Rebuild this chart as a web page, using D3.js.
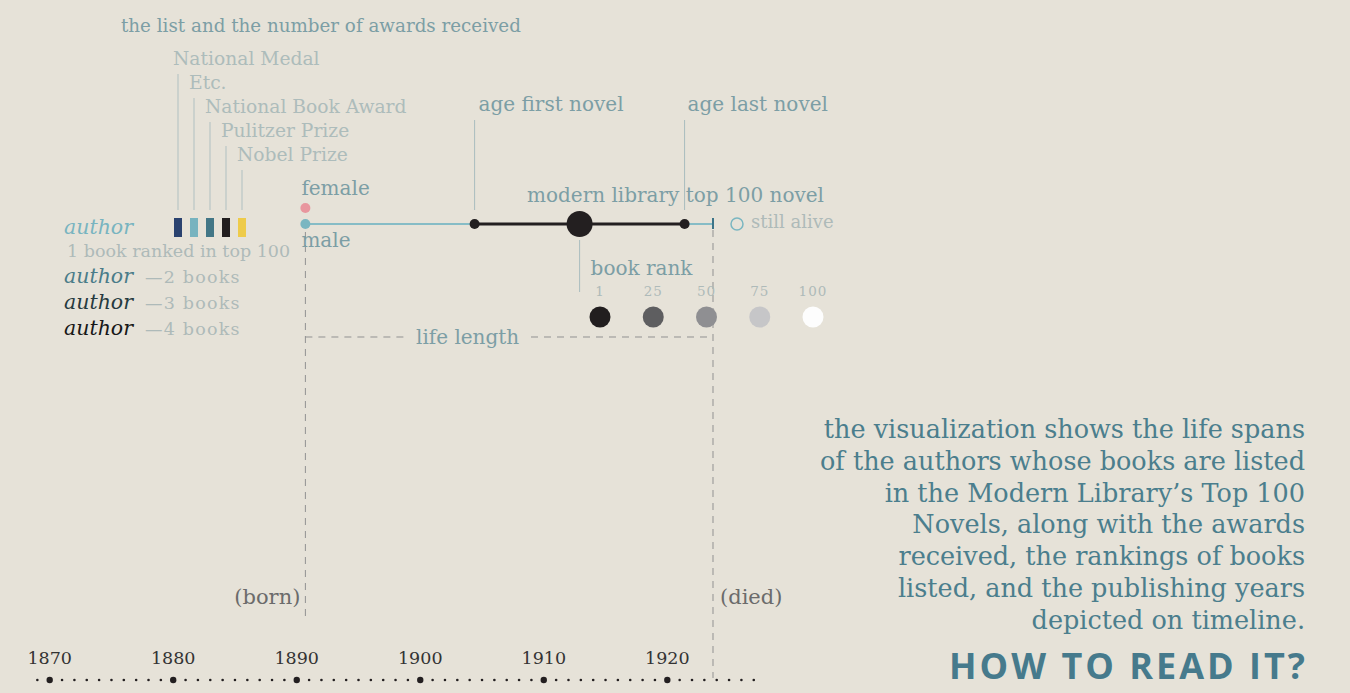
<!DOCTYPE html>
<meta charset="utf-8">
<style>
  body { margin: 0; background: #e6e2d8; }
  text { font-family: "DejaVu Serif", Georgia, serif; }
  .note { fill: #7c9ea5; font-size: 20px; }
  .award { fill: #adbcbb; font-size: 18.7px; }
  .faint { fill: #aebab9; font-size: 17.5px; }
</style>
<svg width="1350" height="693"></svg>
<script src="https://d3js.org/d3.v7.min.js"></script>
<script>

var decades = [1870, 1880, 1890, 1900, 1910, 1920];
var firstYear = 1869, lastYear = 1927;

// sample author used to explain the chart
var born = 1890.7, died = 1923.7;
var firstNovel = 1904.4, lastNovel = 1921.4, topNovel = 1912.9;

var awards = ["National Medal", "Etc.", "National Book Award", "Pulitzer Prize", "Nobel Prize"];
var awardColors = ["#2a426f", "#77b3bf", "#427686", "#221e1f", "#eecb4a"];

var bookCounts = ["1 book ranked in top 100", "2 books", "3 books", "4 books"];
var authorColors = ["#78b4c0", "#4a7c89", "#263a3f", "#171717"];

var ranks = [1, 25, 50, 75, 100];
var rankColors = ["#221e1f", "#5e5e60", "#8f8f92", "#c6c6c8", "#fdfdfd"];

var story = [
  "the visualization shows the life spans",
  "of the authors whose books are listed",
  "in the Modern Library\u2019s Top 100",
  "Novels, along with the awards",
  "received, the rankings of books",
  "listed, and the publishing years",
  "depicted on timeline."
];

var svg = d3.select("svg");

var x = d3.scaleLinear()
    .domain([1870, 1920])
    .range([49.7, 667.3]);

var lineY = 224;

// ---- timeline at the bottom
var axis = svg.append("g").attr("transform", "translate(0,680)");

axis.selectAll("circle")
    .data(d3.range(firstYear, lastYear + 1))
  .enter().append("circle")
    .attr("cx", function(d) { return x(d); })
    .attr("r", function(d) { return decades.indexOf(d) >= 0 ? 3.2 : 1.3; })
    .attr("fill", "#231f20");

axis.selectAll("text")
    .data(decades)
  .enter().append("text")
    .attr("x", function(d) { return x(d); })
    .attr("y", -16)
    .attr("text-anchor", "middle")
    .attr("fill", "#333")
    .style("font-size", "17.5px")
    .text(function(d) { return d; });

// ---- dashed born / died guides
var dash = "7,6", dashColor = "#919191";
svg.append("line")
    .attr("x1", x(born)).attr("x2", x(born))
    .attr("y1", lineY + 8).attr("y2", 620)
    .attr("stroke", dashColor).attr("stroke-dasharray", dash);

svg.append("line")
    .attr("x1", x(died)).attr("x2", x(died))
    .attr("y1", lineY + 6).attr("y2", 678)
    .attr("stroke", dashColor).attr("stroke-dasharray", dash);

svg.append("text")
    .attr("x", x(born) - 5).attr("y", 604)
    .attr("text-anchor", "end")
    .attr("fill", "#6b6b6b").style("font-size", "21px")
    .text("(born)");

svg.append("text")
    .attr("x", x(died) + 7).attr("y", 604)
    .attr("fill", "#6b6b6b").style("font-size", "21px")
    .text("(died)");

// life length
svg.append("line")
    .attr("x1", x(born)).attr("x2", 408)
    .attr("y1", 337).attr("y2", 337)
    .attr("stroke", dashColor).attr("stroke-dasharray", dash);
svg.append("line")
    .attr("x1", 531).attr("x2", x(died))
    .attr("y1", 337).attr("y2", 337)
    .attr("stroke", dashColor).attr("stroke-dasharray", dash);
svg.append("text")
    .attr("class", "note")
    .attr("x", 416).attr("y", 344)
    .text("life length");

// ---- the life line
svg.append("line")
    .attr("x1", x(born)).attr("x2", x(died))
    .attr("y1", lineY).attr("y2", lineY)
    .attr("stroke", "#86bcc6").attr("stroke-width", 2);

svg.append("line")
    .attr("x1", x(firstNovel)).attr("x2", x(lastNovel))
    .attr("y1", lineY).attr("y2", lineY)
    .attr("stroke", "#231f20").attr("stroke-width", 3);

svg.append("line")
    .attr("x1", x(died)).attr("x2", x(died))
    .attr("y1", lineY - 6).attr("y2", lineY + 5)
    .attr("stroke", "#3c7488").attr("stroke-width", 2);

svg.selectAll("circle.novel")
    .data([firstNovel, lastNovel])
  .enter().append("circle")
    .attr("cx", function(d) { return x(d); })
    .attr("cy", lineY)
    .attr("r", 5)
    .attr("fill", "#231f20");

svg.append("circle")
    .attr("cx", x(topNovel)).attr("cy", lineY)
    .attr("r", 13).attr("fill", "#231f20");

svg.append("circle")
    .attr("cx", x(born)).attr("cy", lineY)
    .attr("r", 5).attr("fill", "#7ab6c1");
svg.append("circle")
    .attr("cx", x(born)).attr("cy", lineY - 16)
    .attr("r", 5).attr("fill", "#e8969e");

svg.append("text").attr("class", "note")
    .attr("x", x(born) - 4).attr("y", 195).text("female");
svg.append("text").attr("class", "note")
    .attr("x", x(born) - 4).attr("y", 247).text("male");

svg.append("circle")
    .attr("cx", x(died) + 24).attr("cy", lineY)
    .attr("r", 6).attr("fill", "none")
    .attr("stroke", "#7ab6c1").attr("stroke-width", 1.5);
svg.append("text").attr("class", "faint")
    .attr("x", x(died) + 38).attr("y", 228)
    .style("font-size", "18px")
    .text("still alive");

// pointers to novels
var pointer = "#a9bcbe";
svg.append("line")
    .attr("x1", x(firstNovel)).attr("x2", x(firstNovel))
    .attr("y1", 120).attr("y2", 210).attr("stroke", pointer);
svg.append("text").attr("class", "note")
    .attr("x", x(firstNovel) + 4).attr("y", 111).text("age first novel");

svg.append("line")
    .attr("x1", x(lastNovel)).attr("x2", x(lastNovel))
    .attr("y1", 120).attr("y2", 210).attr("stroke", pointer);
svg.append("text").attr("class", "note")
    .attr("x", x(lastNovel) + 3).attr("y", 111).text("age last novel");

svg.append("text").attr("class", "note")
    .attr("x", 527).attr("y", 202).text("modern library top 100 novel");

svg.append("line")
    .attr("x1", x(topNovel)).attr("x2", x(topNovel))
    .attr("y1", 240).attr("y2", 292).attr("stroke", pointer);
svg.append("text").attr("class", "note")
    .attr("x", x(topNovel) + 11).attr("y", 275).text("book rank");

// book rank legend
var r = d3.scalePoint().domain(ranks).range([600, 813]);
var rankColor = d3.scaleOrdinal().domain(ranks).range(rankColors);

svg.selectAll("circle.rank")
    .data(ranks)
  .enter().append("circle")
    .attr("cx", function(d) { return r(d); })
    .attr("cy", 317).attr("r", 10.5)
    .attr("fill", function(d) { return rankColor(d); });

svg.selectAll("text.rank")
    .data(ranks)
  .enter().append("text")
    .attr("class", "faint")
    .attr("x", function(d) { return r(d); })
    .attr("y", 296)
    .attr("text-anchor", "middle")
    .style("font-size", "13.5px")
    .style("letter-spacing", "1px")
    .text(function(d) { return d; });

// ---- awards legend
var a = d3.scalePoint().domain(awards).range([178, 242]);

svg.append("text").attr("class", "note")
    .attr("x", 121).attr("y", 32)
    .style("font-size", "18.3px")
    .text("the list and the number of awards received");

svg.selectAll("rect.award")
    .data(awards)
  .enter().append("rect")
    .attr("x", function(d) { return a(d) - 4; })
    .attr("y", 218).attr("width", 8).attr("height", 19)
    .attr("fill", function(d, i) { return awardColors[i]; });

svg.selectAll("line.award")
    .data(awards)
  .enter().append("line")
    .attr("x1", function(d) { return a(d); })
    .attr("x2", function(d) { return a(d); })
    .attr("y1", function(d, i) { return 74 + i * 24; })
    .attr("y2", 210)
    .attr("stroke", "#b0c0c1");

svg.selectAll("text.award")
    .data(awards)
  .enter().append("text")
    .attr("class", "award")
    .attr("x", function(d) { return a(d) - 5; })
    .attr("y", function(d, i) { return 65 + i * 24; })
    .text(function(d) { return d; });

// ---- author legend
var authorY = [234, 283, 309, 335];
svg.selectAll("text.author")
    .data(bookCounts)
  .enter().append("text")
    .attr("x", 64)
    .attr("y", function(d, i) { return authorY[i]; })
    .attr("fill", function(d, i) { return authorColors[i]; })
    .style("font-size", "20.5px")
    .style("font-style", "italic")
    .text("author");

svg.selectAll("text.count")
    .data(bookCounts)
  .enter().append("text")
    .attr("class", "faint")
    .attr("x", function(d, i) { return i === 0 ? 67 : 145; })
    .attr("y", function(d, i) { return i === 0 ? 257 : authorY[i]; })
    .style("letter-spacing", function(d, i) { return i === 0 ? "0px" : "1.2px"; })
    .text(function(d, i) { return i === 0 ? d : "\u2014" + d; });

// ---- explanation
svg.selectAll("text.story")
    .data(story)
  .enter().append("text")
    .attr("x", 1305)
    .attr("y", function(d, i) { return 438 + i * 31.8; })
    .attr("text-anchor", "end")
    .attr("fill", "#4b7e8d")
    .style("font-size", "25.5px")
    .text(function(d) { return d; });

svg.append("text")
    .attr("x", 1308).attr("y", 679)
    .attr("text-anchor", "end")
    .attr("fill", "#467a8c")
    .style("font-family", "'Open Sans', sans-serif")
    .style("font-weight", "bold")
    .style("font-size", "36px")
    .style("letter-spacing", "3px")
    .text("HOW TO READ IT?");

</script>
